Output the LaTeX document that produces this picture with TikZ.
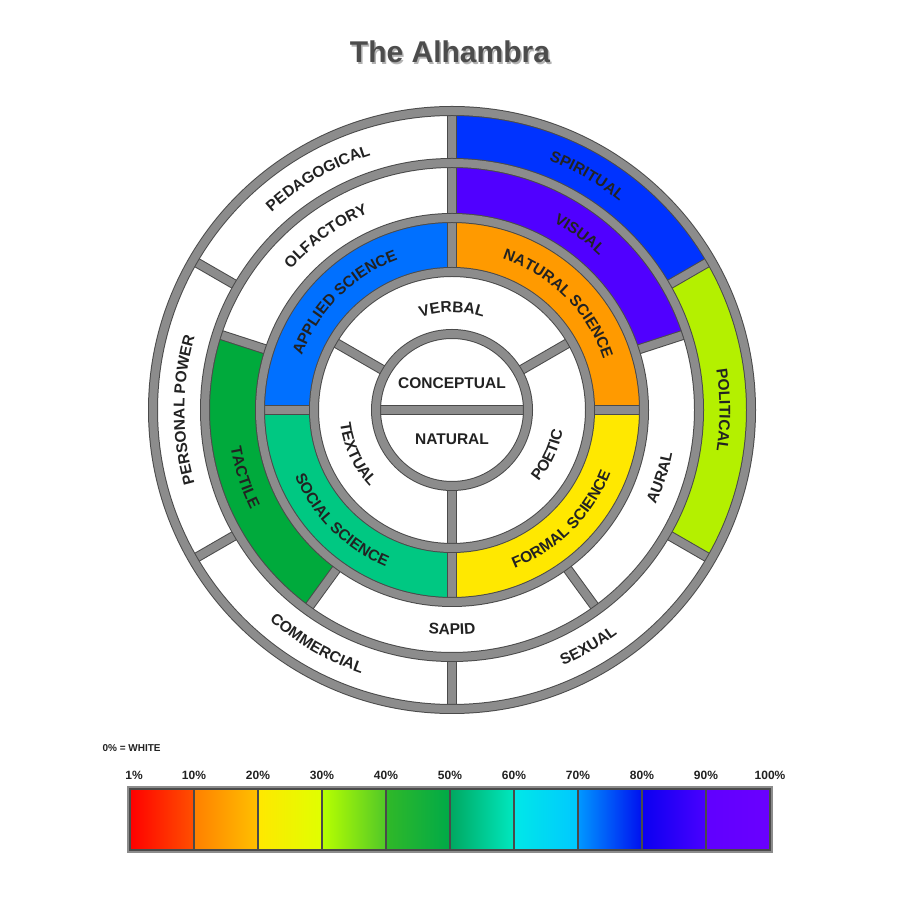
\documentclass[tikz,border=0pt]{standalone}
\usepackage{fontspec}
\setmainfont{Liberation Sans}
\usetikzlibrary{decorations.text}
\definecolor{bord}{HTML}{8C8C8C}
\definecolor{bordd}{HTML}{4A4A4A}
\definecolor{txt}{HTML}{222222}
\definecolor{cApplied}{HTML}{0070FF}
\definecolor{cNatural}{HTML}{FF9A00}
\definecolor{cFormal}{HTML}{FFE800}
\definecolor{cSocial}{HTML}{00C882}
\definecolor{cSpirit}{HTML}{0033FF}
\definecolor{cVisual}{HTML}{5000FF}
\definecolor{cPolit}{HTML}{B4F000}
\definecolor{cTactile}{HTML}{00AA3C}
\newcommand\lblfont{\bfseries\fontsize{15.5}{16}\selectfont}
\newcommand\sector[5]{% color, a1, a2, r1, r2
  \fill[#1] (#2:#5) arc[start angle=#2,end angle=#3,radius=#5] -- (#3:#4) arc[start angle=#3,end angle=#2,radius=#4] -- cycle;}
\newcommand\cwlbl[3]{% angle, radius, text (clockwise, top)
  \path[decorate,decoration={text along path,text align=center,text color=txt,text={|\lblfont|#3}}]
    ({#1+70}:{#2-5.5}) arc[start angle={#1+70},end angle={#1-70},radius={#2-5.5}];}
\newcommand\ccwlbl[3]{% angle, radius, text (counterclockwise, bottom)
  \path[decorate,decoration={text along path,text align=center,text color=txt,text={|\lblfont|#3}}]
    ({#1-70}:{#2+5.5}) arc[start angle={#1-70},end angle={#1+70},radius={#2+5.5}];}
\tikzset{bline/.style={line width=8pt,draw=bord,line cap=butt,preaction={draw=bordd,line width=10pt}}}
\begin{document}
\begin{tikzpicture}[x=1pt,y=1pt]
\useasboundingbox (0,0) rectangle (900,900);
\fill[white] (0,0) rectangle (900,900);
% title
\node[text=gray!60,font=\bfseries\fontsize{30}{32}\selectfont] (ts) at (451.5,846.5) {The Alhambra};
\node[text=black!70,font=\bfseries\fontsize{30}{32}\selectfont] (title) at (450,848) {The Alhambra};
\begin{scope}[shift={(452,490)}]
% fills
\sector{cApplied}{90}{180}{138}{192}
\sector{cNatural}{0}{90}{138}{192}
\sector{cFormal}{-90}{0}{138}{192}
\sector{cSocial}{180}{270}{138}{192}
\sector{cVisual}{18}{90}{192}{247}
\sector{cTactile}{162}{234}{192}{247}
\sector{cSpirit}{30}{90}{247}{299}
\sector{cPolit}{-30}{30}{247}{299}
% radial lines
\draw[bline] (180:76) -- (0:76);
\foreach \a in {30,150,270} \draw[bline] (\a:76) -- (\a:138);
\foreach \a in {0,90,180,270} \draw[bline] (\a:138) -- (\a:192);
\foreach \a in {90,18,-54,-126,162} \draw[bline] (\a:192) -- (\a:247);
\foreach \a in {90,30,-30,-90,-150,150} \draw[bline] (\a:247) -- (\a:299);
% circles
\foreach \r in {76,138,192,247,299} \draw[bline] (0,0) circle[radius=\r];
% labels
\node[text=txt,font=\lblfont] (concept) at (0,27) {CONCEPTUAL};
\node[text=txt,font=\lblfont] (natural) at (0,-29) {NATURAL};
\cwlbl{90}{103}{VERBAL}
\ccwlbl{205}{107}{TEXTUAL}
\ccwlbl{-25}{107}{POETIC}
\cwlbl{135}{165}{APPLIED SCIENCE}
\cwlbl{45}{165}{NATURAL SCIENCE}
\ccwlbl{-45}{165}{FORMAL SCIENCE}
\ccwlbl{225}{165}{SOCIAL SCIENCE}
\cwlbl{126}{219}{OLFACTORY}
\cwlbl{54}{219}{VISUAL}
\ccwlbl{-18}{219}{AURAL}
\ccwlbl{-90}{219}{SAPID}
\ccwlbl{198}{219}{TACTILE}
\cwlbl{120}{273}{PEDAGOGICAL}
\cwlbl{60}{273}{SPIRITUAL}
\cwlbl{0}{273}{POLITICAL}
\ccwlbl{-60}{273}{SEXUAL}
\ccwlbl{-120}{273}{COMMERCIAL}
\cwlbl{180}{273}{PERSONAL POWER}
\end{scope}
% legend
\node[anchor=west,text=txt,font=\bfseries\fontsize{10}{11}\selectfont] (zero) at (99,152) {0\% = WHITE};
\def\cw{64}
\foreach \i/\l/\r in {0/FF0000/FF5000,1/FF8000/FFC000,2/FFE800/E0FF00,3/B8FF00/50C828,4/30B828/00AA48,5/00A860/00E8C0,6/00E8E8/00C8FF,7/0098FF/0010F0,8/0A00F0/4A00FF,9/6000FF/6A00FF}{
  \definecolor{lc}{HTML}{\l}\definecolor{rc}{HTML}{\r}
  \shade[left color=lc,right color=rc] ({130+\i*\cw},50) rectangle ({130+(\i+1)*\cw},111);
  \draw[line width=2.5pt,draw=bordd] ({130+\i*\cw},50) rectangle ({130+(\i+1)*\cw},111);
}
\draw[line width=2pt,draw=bord] (128,48) rectangle (772,113);
\foreach \i/\t in {0/1\%,1/10\%,2/20\%,3/30\%,4/40\%,5/50\%,6/60\%,7/70\%,8/80\%,9/90\%,10/100\%}{
  \node[text=txt,font=\bfseries\fontsize{12}{13}\selectfont] (p\i) at ({(\i==0?134:130+\i*\cw)},125) {\t};
}
\end{tikzpicture}
\end{document}
